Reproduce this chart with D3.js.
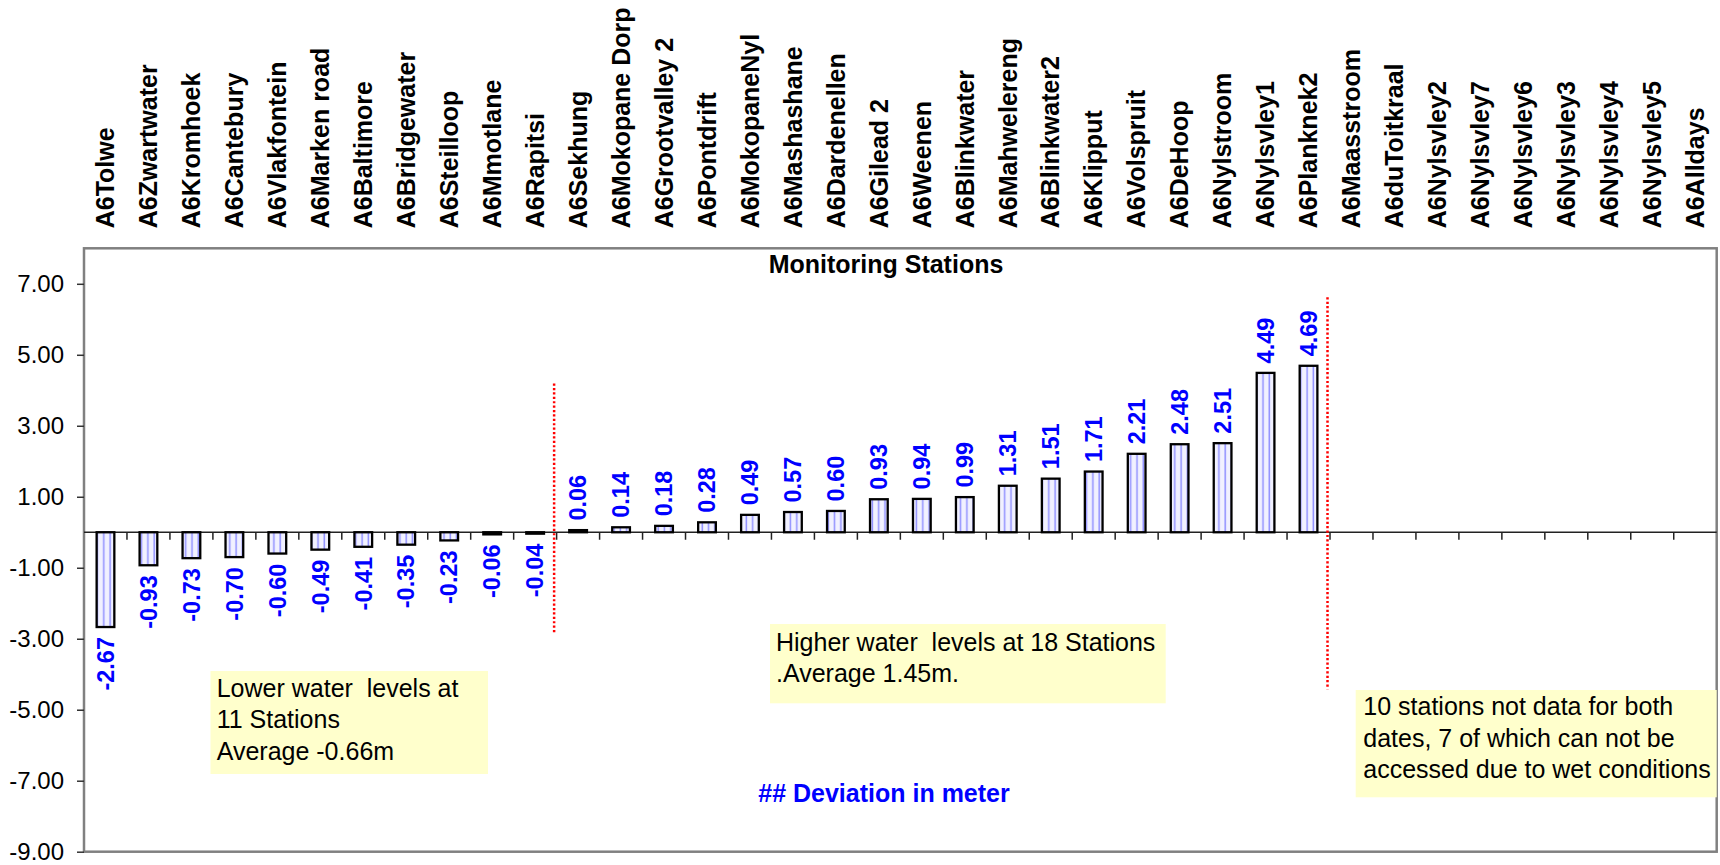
<!DOCTYPE html>
<html>
<head>
<meta charset="utf-8">
<script src="https://cdn.jsdelivr.net/npm/d3@7"></script>
<style>
  html, body { margin: 0; padding: 0; background: #fff; }
  svg { display: block; }
  text { font-family: "Liberation Sans", Arial, Helvetica, sans-serif; }
</style>
</head>
<body>
<svg id="chart" width="1720" height="865"></svg>
<script>
// ---------- DATA ----------
const categories = [
  "A6Tolwe", "A6Zwartwater", "A6Kromhoek", "A6Cantebury", "A6Vlakfontein",
  "A6Marken road", "A6Baltimore", "A6Bridgewater", "A6Steilloop", "A6Mmotlane",
  "A6Rapitsi", "A6Sekhung", "A6Mokopane Dorp", "A6Grootvalley 2", "A6Pontdrift",
  "A6MokopaneNyl", "A6Mashashane", "A6Dardenellen", "A6Gilead 2", "A6Weenen",
  "A6Blinkwater", "A6Mahwelereng", "A6Blinkwater2", "A6Klipput", "A6Volspruit",
  "A6DeHoop", "A6Nylstroom", "A6Nylsvley1", "A6Planknek2", "A6Maasstroom",
  "A6duToitkraal", "A6Nylsvley2", "A6Nylsvley7", "A6Nylsvley6", "A6Nylsvley3",
  "A6Nylsvley4", "A6Nylsvley5", "A6Alldays"
];
const deviation = [
  -2.67, -0.93, -0.73, -0.70, -0.60, -0.49, -0.41, -0.35, -0.23, -0.06, -0.04,
  0.06, 0.14, 0.18, 0.28, 0.49, 0.57, 0.60, 0.93, 0.94, 0.99, 1.31, 1.51, 1.71,
  2.21, 2.48, 2.51, 4.49, 4.69,
  null, null, null, null, null, null, null, null, null
];
const yTicks = [-9, -7, -5, -3, -1, 1, 3, 5, 7];
const yDomain = [-9, 8];
const chartTitle = "Monitoring Stations";
const axisTitle = "## Deviation in meter";
const noteLower = ["Lower water  levels at", "11 Stations", "Average -0.66m"];
const noteHigher = ["Higher water  levels at 18 Stations", ".Average 1.45m."];
const noteMissing = ["10 stations not data for both", "dates, 7 of which can not be", "accessed due to wet conditions"];
// divider lines: [category index they precede, y from, y to]
const dividers = [[11, 4.19, -2.83], [29, 6.62, -4.42]];

// ---------- LAYOUT ----------
const L = 84, R = 1716.7, T = 248.3, B = 851.7;
const svg = d3.select("#chart");
const fmt = v => d3.format(".2f")(v).replace("\u2212", "-");

const x = d3.scaleBand().domain(categories).range([L, R]).paddingInner(0).paddingOuter(0);
const y = d3.scaleLinear().domain(yDomain).range([B, T]);
const bw = x.bandwidth();
const barW = bw * 0.412;

// pattern for bars
const defs = svg.append("defs");
const pat = defs.append("pattern")
  .attr("id", "stripes").attr("patternUnits", "userSpaceOnUse")
  .attr("width", 6.3).attr("height", 10);
pat.append("rect").attr("width", 6.3).attr("height", 10).attr("fill", "#f1f1ff");
pat.append("line").attr("x1", 3).attr("x2", 3).attr("y1", 0).attr("y2", 10)
  .attr("stroke", "#9090ff").attr("stroke-width", 1.5);

// plot border
svg.append("rect")
  .attr("x", L).attr("y", T).attr("width", R - L).attr("height", B - T)
  .attr("fill", "#fff").attr("stroke", "#808080").attr("stroke-width", 2.5);

// y axis
const yAxis = d3.axisLeft(y).tickValues(yTicks).tickFormat(fmt)
  .tickSize(7).tickPadding(13);
const gy = svg.append("g").attr("transform", `translate(${L},0)`).call(yAxis);
gy.select(".domain").remove();
gy.selectAll(".tick line").attr("stroke", "#333").attr("stroke-width", 1.5);
gy.selectAll(".tick text").attr("font-size", 24).attr("fill", "#000")
  .style("font-family", '"Liberation Sans", Arial, sans-serif');

// zero axis line with category ticks
const y0 = y(0);
svg.append("line").attr("x1", L).attr("x2", R).attr("y1", y0).attr("y2", y0)
  .attr("stroke", "#222").attr("stroke-width", 1.5);
svg.append("g").selectAll("line").data(categories.slice(1)).join("line")
  .attr("x1", d => x(d)).attr("x2", d => x(d))
  .attr("y1", y0).attr("y2", y0 + 7.5)
  .attr("stroke", "#222").attr("stroke-width", 1.5);

// bars
const data = categories.map((c, i) => ({ c, v: deviation[i] })).filter(d => d.v !== null);
svg.append("g").selectAll("rect").data(data).join("rect")
  .attr("x", d => x(d.c) + (bw - barW) / 2)
  .attr("width", barW)
  .attr("y", d => y(Math.max(0, d.v)))
  .attr("height", d => Math.abs(y(d.v) - y(0)))
  .attr("fill", "url(#stripes)")
  .attr("stroke", "#000").attr("stroke-width", 2.3);

// value labels
svg.append("g").selectAll("text").data(data).join("text")
  .attr("transform", d => {
    const cx = x(d.c) + bw / 2;
    const yy = d.v >= 0 ? y(d.v) - 9.5 : y(d.v) + 10;
    return `translate(${cx},${yy}) rotate(-90)`;
  })
  .attr("dy", "0.35em")
  .attr("text-anchor", d => d.v >= 0 ? "start" : "end")
  .attr("font-size", 23.5).attr("font-weight", "bold").attr("fill", "#0000ff")
  .text(d => fmt(d.v));

// category labels (top)
svg.append("g").selectAll("text").data(categories).join("text")
  .attr("transform", d => `translate(${x(d) + bw / 2},228.3) rotate(-90)`)
  .attr("dy", "0.35em")
  .attr("text-anchor", "start")
  .attr("font-size", 25).attr("font-weight", "bold").attr("fill", "#000")
  .text(d => d);

// chart title
svg.append("text").attr("x", 886).attr("y", 273.3).attr("text-anchor", "middle")
  .attr("font-size", 25).attr("font-weight", "bold").text(chartTitle);

// axis title
svg.append("text").attr("x", 884).attr("y", 801.7).attr("text-anchor", "middle")
  .attr("font-size", 25).attr("font-weight", "bold").attr("fill", "#0000ff").text(axisTitle);

// divider lines
svg.append("g").selectAll("line").data(dividers).join("line")
  .attr("x1", d => x(categories[d[0]]) - 2.5).attr("x2", d => x(categories[d[0]]) - 2.5)
  .attr("y1", d => y(d[1])).attr("y2", d => y(d[2]))
  .attr("stroke", "#ff0000").attr("stroke-width", 2.5).attr("stroke-dasharray", "2.2,2.2");

// notes
function note(lines, bx, by, bwid, bh, tx, ty0, lh) {
  const g = svg.append("g");
  g.append("rect").attr("x", bx).attr("y", by).attr("width", bwid).attr("height", bh)
    .attr("fill", "#ffffcc");
  g.selectAll("text").data(lines).join("text")
    .attr("x", tx).attr("y", (d, i) => ty0 + i * lh)
    .attr("font-size", 25).attr("fill", "#000")
    .style("white-space", "pre").attr("xml:space", "preserve")
    .text(d => d);
}
note(noteLower, 210.5, 671, 277.5, 103, 216.7, 696.7, 31.7);
note(noteHigher, 770, 624, 395.7, 79.3, 776, 650.7, 31.3);
note(noteMissing, 1355.7, 690, 361, 107.3, 1363.3, 715, 31.7);
</script>
</body>
</html>
